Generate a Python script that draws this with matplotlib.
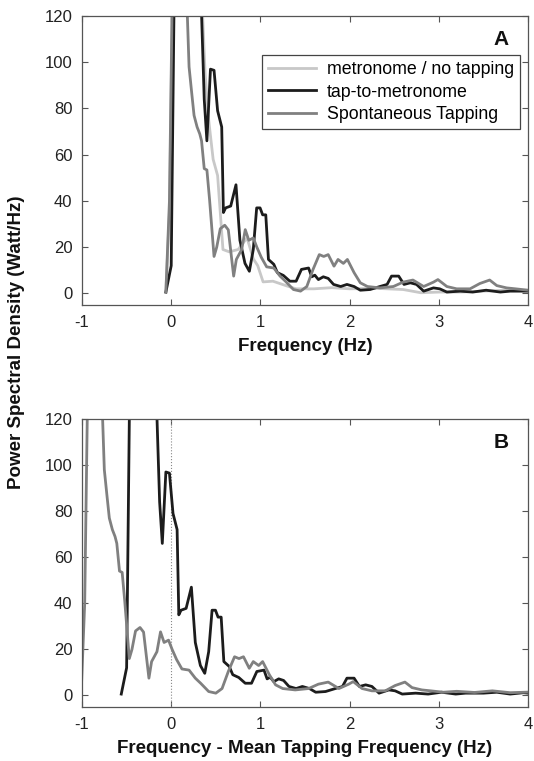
import numpy as np
import matplotlib
matplotlib.use("Agg")
import matplotlib.pyplot as plt

plt.rcParams['font.family'] = ['Liberation Sans', 'DejaVu Sans']
plt.rcParams['axes.unicode_minus'] = False

# frequency (Hz) / power spectral density
metro_f = [-0.06, -0.02, 0.03, 0.20, 0.33, 0.38, 0.42, 0.47, 0.52, 0.55, 0.58, 0.65,
           0.75, 0.85, 0.92, 0.97, 1.03, 1.14, 1.30, 1.40, 1.60, 1.80, 2.00, 2.30,
           2.60, 2.80, 3.00, 3.25, 3.50, 3.75, 4.00]
metro_p = [0.6, 35, 170, 200, 140, 95, 75, 58, 51, 35, 19, 18,
           19, 24, 15, 12, 5, 5.3, 3.2, 2, 2, 2.5, 2, 2.2,
           1.7, 0.3, 0.6, 0.6, 1, 1.4, 1.4]

tap_f = [-0.06, 0.00, 0.05, 0.15, 0.30, 0.37, 0.40, 0.44, 0.48, 0.52, 0.566, 0.585,
         0.61, 0.667, 0.726, 0.77, 0.827, 0.876, 0.92, 0.958, 0.996, 1.025, 1.06, 1.09,
         1.15, 1.19, 1.257, 1.33, 1.40, 1.46, 1.54, 1.575, 1.61, 1.65, 1.705, 1.76,
         1.82, 1.90, 1.97, 2.05, 2.12, 2.23, 2.34, 2.42, 2.47, 2.55, 2.61, 2.68,
         2.75, 2.83, 2.94, 3.01, 3.09, 3.24, 3.38, 3.53, 3.69, 3.80, 4.00, 4.15,
         4.30, 4.45, 4.55]
tap_p = [0.6, 12, 190, 230, 170, 84, 66, 97, 96.5, 79, 72, 35,
         37, 37.8, 47, 23, 13, 9.6, 19, 37, 37, 34, 34, 14.7,
         12.6, 9, 7.8, 5.3, 5.3, 10.4, 11, 7.2, 7.9, 6, 7.2, 6.5,
         3.9, 3, 3.9, 3, 1.4, 1.7, 3, 3.9, 7.5, 7.5, 3.9, 4.6,
         3.9, 1, 2.4, 2, 0.6, 1, 0.6, 1.4, 0.6, 1, 1, 1.4,
         0.6, 1.2, 0.8]

spont_f = [-0.06, -0.02, 0.03, 0.12, 0.20, 0.23, 0.256, 0.29, 0.32, 0.34, 0.37, 0.40,
           0.43, 0.48, 0.51, 0.55, 0.60, 0.64, 0.70, 0.73, 0.79, 0.83, 0.87, 0.92,
           0.96, 1.01, 1.07, 1.15, 1.22, 1.28, 1.37, 1.45, 1.52, 1.59, 1.66, 1.71,
           1.76, 1.825, 1.87, 1.93, 1.975, 2.05, 2.12, 2.20, 2.34, 2.49, 2.60, 2.71,
           2.83, 2.94, 2.99, 3.09, 3.20, 3.35, 3.46, 3.57, 3.65, 3.76, 3.86, 4.00,
           4.15, 4.35, 4.55, 4.75, 5.00]
spont_p = [0.6, 40, 180, 190, 98, 86.6, 77, 72, 69, 66, 54, 53.4,
           40.5, 16, 20, 28, 29.5, 27.5, 7.5, 14.7, 19, 27.6, 23, 24,
           20, 15.6, 11.5, 11, 7.5, 5.3, 1.7, 1, 3, 10.4, 16.8, 16,
           16.8, 11.8, 14.7, 13, 14.7, 9, 4.6, 3, 2.4, 3, 4.9, 5.8,
           3, 4.9, 6, 3, 2, 2, 4.3, 5.8, 3.4, 2.4, 2, 1.4,
           1.8, 1.3, 2.0, 1.2, 1.5]

mean_tap_metronome = 0.50
mean_tap_spont = 0.95

labels = ['metronome / no tapping', 'tap-to-metronome', 'Spontaneous Tapping']
colors = ['#c8c8c8', '#1c1c1c', '#808080']
lw = 2.0

fig = plt.figure(figsize=(5.34, 7.61), dpi=100)
axA = fig.add_axes([0.1536, 0.5992, 0.8352, 0.3798])
axB = fig.add_axes([0.1536, 0.0710, 0.8352, 0.3784])

axA.plot(metro_f, metro_p, color=colors[0], lw=lw, label=labels[0])
axA.plot(tap_f, tap_p, color=colors[1], lw=lw, label=labels[1])
axA.plot(spont_f, spont_p, color=colors[2], lw=lw, label=labels[2])

axB.axvline(0, color='#888888', lw=0.8, ls=':')
axB.plot(np.array(tap_f) - mean_tap_metronome, tap_p, color=colors[1], lw=lw)
axB.plot(np.array(spont_f) - mean_tap_spont, spont_p, color=colors[2], lw=lw)

for ax, letter in ((axA, 'A'), (axB, 'B')):
    ax.set_xlim(-1, 4)
    ax.set_ylim(-5, 120)
    ax.set_xticks([-1, 0, 1, 2, 3, 4])
    ax.set_yticks([0, 20, 40, 60, 80, 100, 120])
    ax.tick_params(direction='in', top=True, right=True, length=4, width=0.8,
                   colors='#555555', labelcolor='#222222', labelsize=12, pad=7)
    for s in ax.spines.values():
        s.set_color('#555555')
        s.set_linewidth(0.9)
    ax.text(0.956, 0.917, letter, transform=ax.transAxes, ha='right', va='center',
            fontsize=15, fontweight='bold', color='#111111')

axA.set_xlabel('Frequency (Hz)', fontsize=13.5, fontweight='bold', color='#111111', labelpad=6)
axB.set_xlabel('Frequency - Mean Tapping Frequency (Hz)', fontsize=13.5, fontweight='bold',
               color='#111111', labelpad=6)
fig.text(0.03, 0.55, 'Power Spectral Density (Watt/Hz)', rotation=90, ha='center', va='center',
         fontsize=13.5, fontweight='bold', color='#111111')

leg = axA.legend(loc='upper right', bbox_to_anchor=(0.982, 0.865), fontsize=12.8,
                 handlelength=2.7, fancybox=False, framealpha=1, borderpad=0.35,
                 labelspacing=0.3, handletextpad=0.6, borderaxespad=0)
leg.get_frame().set_edgecolor('#444444')
leg.get_frame().set_linewidth(0.9)

fig.savefig('out.png', dpi=100)
